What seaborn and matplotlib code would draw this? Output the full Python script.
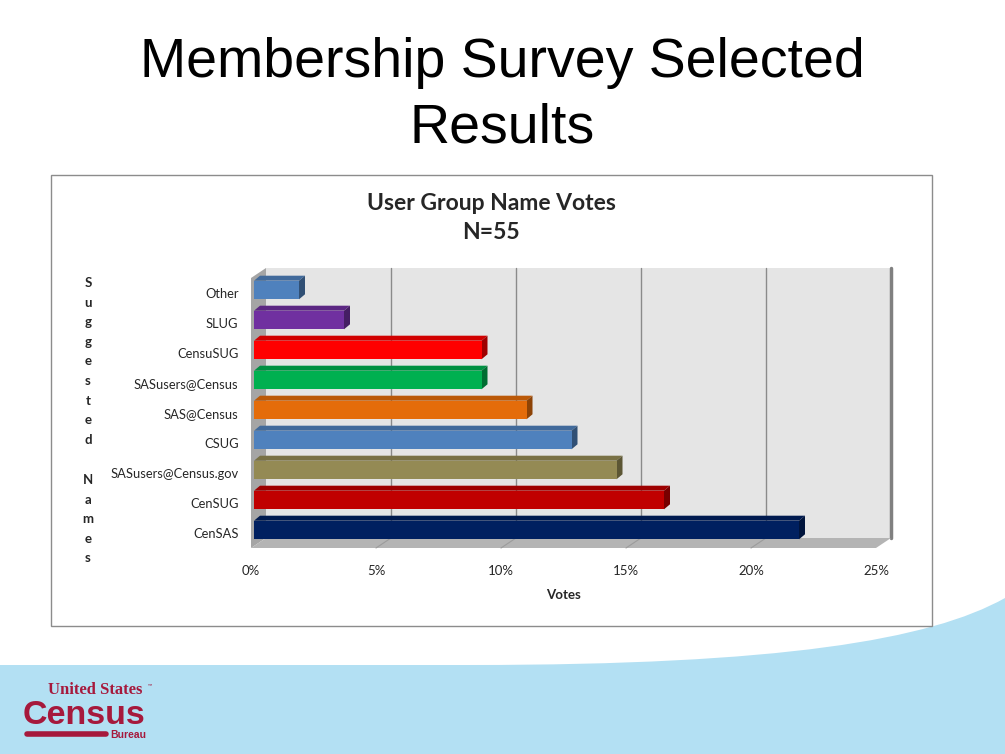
import numpy as np
import pandas as pd
import matplotlib
matplotlib.use("Agg")
import matplotlib.pyplot as plt
import seaborn as sns
from matplotlib.patches import Rectangle, Polygon, PathPatch
from matplotlib.path import Path
from matplotlib.transforms import ScaledTranslation, IdentityTransform

# ---------------- data ----------------
names = ["Other", "SLUG", "CensuSUG", "SASusers@Census", "SAS@Census",
         "CSUG", "SASusers@Census.gov", "CenSUG", "CenSAS"]
percent = [1.8, 3.6, 9.1, 9.1, 10.9, 12.7, 14.5, 16.4, 21.8]
colors = ["#4f81bd", "#7030a0", "#ff0000", "#00b050", "#e46c0a",
          "#4f81bd", "#948a54", "#c00000", "#002060"]
xticks = [0, 5, 10, 15, 20, 25]
xticklabels = ["0%", "5%", "10%", "15%", "20%", "25%"]
chart_title = "User Group Name Votes\nN=55"
slide_title = "Membership Survey Selected\nResults"
ylabel_text = "Suggested Names"

sns.set_theme(style="white")
plt.rcParams["font.family"] = ["Lato", "DejaVu Sans"]

W, H = 1005, 754
DPI = 100
fig = plt.figure(figsize=(W / DPI, H / DPI), dpi=DPI)
fig.patch.set_facecolor("white")

# background axes in pixel coords (y downward)
bg = fig.add_axes([0, 0, 1, 1], zorder=-5)
bg.set_xlim(0, W)
bg.set_ylim(H, 0)
bg.axis("off")

# light-blue swoosh at bottom
verts = [(0, 665), (470, 665), (780, 665), (930, 640), (1005, 598),
         (1005, 754), (0, 754), (0, 665)]
codes = [Path.MOVETO, Path.LINETO, Path.CURVE4, Path.CURVE4, Path.CURVE4,
         Path.LINETO, Path.LINETO, Path.CLOSEPOLY]
bg.add_patch(PathPatch(Path(verts, codes), facecolor="#b3e0f3", edgecolor="none"))

# chart frame
bg.add_patch(Rectangle((51, 175), 881, 451, facecolor="white",
                       edgecolor="#8c8c8c", lw=1.0, zorder=2))

# slide title
bg.text(502, 96, slide_title, ha="center", va="center", fontsize=40,
        family=["Liberation Sans", "DejaVu Sans"], color="black",
        linespacing=1.33, zorder=3)

# chart title
bg.text(491, 218, chart_title, ha="center", va="center", fontsize=16.5,
        fontweight="bold", linespacing=1.42, zorder=3)

# vertical stacked y-label
yy = 283.0
for ch in ylabel_text:
    if ch == " ":
        yy += 20.5
        continue
    bg.text(88, yy, ch, ha="center", va="center", fontsize=9.5,
            fontweight="bold", zorder=3)
    yy += 19.6

# census logo
red = "#a6193c"
bg.text(48, 690, "United States", ha="left", va="center", fontsize=12,
        fontweight="bold", color=red,
        family=["Liberation Serif", "DejaVu Serif"], zorder=3)
bg.text(148, 686, "™", ha="left", va="center", fontsize=4, color=red, zorder=3)
bg.text(23, 716, "Census", ha="left", va="center", fontsize=24.5,
        fontweight="bold", color=red,
        family=["Liberation Sans", "DejaVu Sans"], zorder=3)
bg.plot([27, 106], [734, 734], color=red, lw=4.0, solid_capstyle="round", zorder=3)
bg.text(110, 735, "Bureau", ha="left", va="center", fontsize=7.5,
        fontweight="bold", color=red,
        family=["Liberation Sans", "DejaVu Sans"], zorder=3)

# ---------------- main (front plane) axes ----------------
x0p, x1p, y0p, y1p = 251, 876, 278, 548
ax = fig.add_axes([x0p / W, 1 - y1p / H, (x1p - x0p) / W, (y1p - y0p) / H], zorder=1)
ax.set_facecolor("none")

df = pd.DataFrame({"name": names, "value": percent})
pal = dict(zip(names, colors))
sns.barplot(data=df, x="value", y="name", hue="name", palette=pal, legend=False,
            width=0.62, saturation=1, ax=ax, zorder=3, linewidth=0)

ax.set_xlim(0, 25)
ax.set_ylim(len(names) - 0.5, -0.5)
for s in ax.spines.values():
    s.set_visible(False)
ax.set_xticks(xticks)
ax.set_xticklabels(xticklabels)
ax.tick_params(axis="x", length=0, pad=12, labelsize=9.5)
ax.tick_params(axis="y", length=0, pad=9, labelsize=9.3)
ax.set_ylabel("")
ax.set_xlabel("Votes", fontsize=9.5, fontweight="bold", labelpad=9)
ax.grid(False)

px = 1.0 / DPI
WD = (15, 10)  # wall depth offset in pixels (right, up)
off_wall = ScaledTranslation(WD[0] * px, WD[1] * px, fig.dpi_scale_trans)

# back wall
ax.add_patch(Rectangle((0, 0), 1, 1, transform=ax.transAxes + off_wall,
                       facecolor="#e5e5e5", edgecolor="none", zorder=0.2, clip_on=False))
# right edge of back wall
ax.plot([1, 1], [0, 1], transform=ax.transAxes + off_wall, color="#808080",
        lw=2.5, zorder=0.3, clip_on=False)
# back-wall gridlines
for t in xticks[1:-1]:
    ax.plot([t, t], [0, 1], transform=ax.get_xaxis_transform() + off_wall,
            color="#8a8a8a", lw=1.0, zorder=0.3, clip_on=False)

def disp_axes(ax_pt, d=(0, 0)):
    p = ax.transAxes.transform(ax_pt)
    return (p[0] + d[0], p[1] + d[1])

# left side wall
side = [disp_axes((0, 0)), disp_axes((0, 1)), disp_axes((0, 1), WD), disp_axes((0, 0), WD)]
ax.add_patch(Polygon(side, closed=True, transform=IdentityTransform(),
                     facecolor="#a5a5a5", edgecolor="none", zorder=0.4, clip_on=False))
# floor
floor = [disp_axes((0, 0)), disp_axes((1, 0)), disp_axes((1, 0), WD), disp_axes((0, 0), WD)]
ax.add_patch(Polygon(floor, closed=True, transform=IdentityTransform(),
                     facecolor="#b4b4b4", edgecolor="none", zorder=0.5, clip_on=False))
# floor grid diagonals
for t in xticks[1:-1]:
    p = ax.get_xaxis_transform().transform((t, 0))
    ax.plot([p[0], p[0] + WD[0]], [p[1], p[1] + WD[1]], transform=IdentityTransform(),
            color="#9c9c9c", lw=0.8, zorder=0.55, clip_on=False)

# bars: shift slightly into depth and add 3D faces
BO = (3, 3)
BD = (6, 5)
off_bar = ScaledTranslation(BO[0] * px, BO[1] * px, fig.dpi_scale_trans)
tr_bar = ax.transData + off_bar

def darker(c, f):
    r, g, b = matplotlib.colors.to_rgb(c)
    return (r * f, g * f, b * f)

bars = [p for p in ax.patches if isinstance(p, Rectangle) and p.get_zorder() == 3]
for patch in bars:
    patch.set_transform(tr_bar)
    col = patch.get_facecolor()
    bx0 = patch.get_x()
    bx1 = bx0 + patch.get_width()
    by0 = patch.get_y()              # top on screen (inverted axis)
    by1 = by0 + patch.get_height()   # bottom on screen
    tl = tr_bar.transform((bx0, by0))
    tr_ = tr_bar.transform((bx1, by0))
    br = tr_bar.transform((bx1, by1))
    top = [tl, tr_, (tr_[0] + BD[0], tr_[1] + BD[1]), (tl[0] + BD[0], tl[1] + BD[1])]
    rside = [tr_, br, (br[0] + BD[0], br[1] + BD[1]), (tr_[0] + BD[0], tr_[1] + BD[1])]
    ax.add_patch(Polygon(top, closed=True, transform=IdentityTransform(),
                         facecolor=darker(col, 0.82), edgecolor="none",
                         zorder=2.9, clip_on=False))
    ax.add_patch(Polygon(rside, closed=True, transform=IdentityTransform(),
                         facecolor=darker(col, 0.62), edgecolor="none",
                         zorder=2.9, clip_on=False))

fig.savefig("out.png", dpi=DPI)
